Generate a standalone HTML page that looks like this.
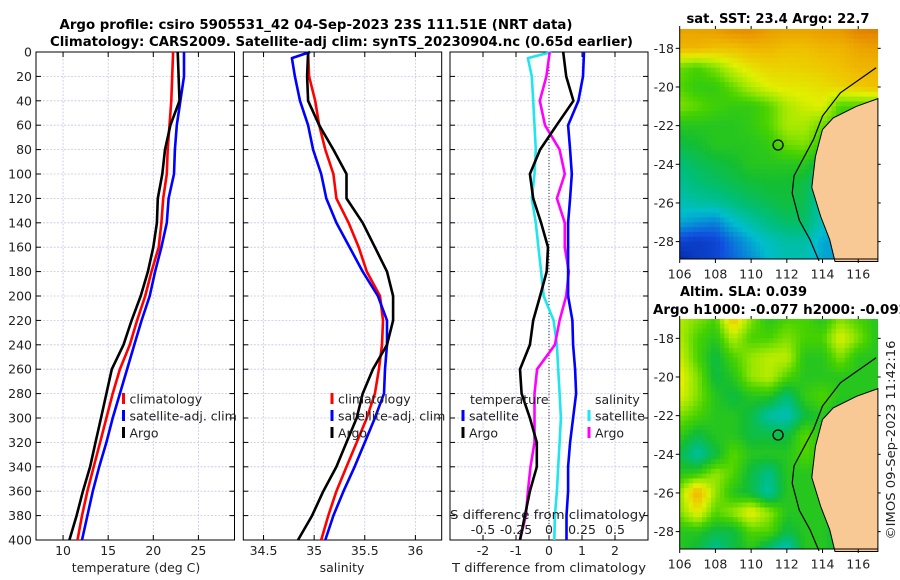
<!DOCTYPE html>
<html><head><meta charset="utf-8">
<style>
html,body{margin:0;padding:0;background:#fff;}
svg{display:block;font-family:"DejaVu Sans","Liberation Sans",sans-serif;}
</style></head>
<body>
<svg id="fig" width="900" height="580" viewBox="0 0 900 580" xmlns="http://www.w3.org/2000/svg">
<text x="316" y="29" font-size="13.5" font-weight="bold" text-anchor="middle" textLength="513" lengthAdjust="spacingAndGlyphs">Argo profile: csiro 5905531_42 04-Sep-2023 23S 111.51E (NRT data)</text>
<text x="341.5" y="46" font-size="13.5" font-weight="bold" text-anchor="middle" textLength="583" lengthAdjust="spacingAndGlyphs">Climatology: CARS2009. Satellite-adj clim: synTS_20230904.nc (0.65d earlier)</text>
<g id="plots"></g>
</svg>
<script>
// ---------- profile data ----------
const depths = [0,20,40,60,80,100,120,140,160,180,200,220,240,260,280,300,320,340,360,380,400];
const tempClim = [22.2,22.1,22.0,21.8,21.6,21.5,21.1,20.9,20.6,19.8,19.1,18.2,17.4,16.3,15.5,14.8,14.1,13.4,12.7,12.1,11.6];
const tempSat  = [23.4,23.4,23.0,22.6,22.4,22.3,21.7,21.5,20.9,20.2,19.6,18.7,17.9,17.1,16.3,15.5,14.8,14.0,13.3,12.7,12.1];
const tempArgo = [22.7,22.8,22.9,21.9,21.3,21.0,20.5,20.4,20.0,19.4,18.6,17.6,16.7,15.4,14.8,14.2,13.6,13.0,12.2,11.5,10.7];
const salClim = [34.94,34.95,35.01,35.05,35.11,35.19,35.22,35.34,35.44,35.52,35.65,35.68,35.67,35.64,35.60,35.52,35.42,35.32,35.22,35.14,35.07];
const satDepths = [0,5,20,40,60,80,100,120,140,160,180,200,220,240,260,280,300,320,340,360,380,400];
const salSat  = [34.96,34.78,34.81,34.86,34.94,34.99,35.07,35.12,35.22,35.35,35.48,35.63,35.72,35.72,35.70,35.69,35.60,35.50,35.40,35.29,35.19,35.11];
const salArgo = [34.94,34.93,34.94,35.05,35.19,35.32,35.32,35.48,35.60,35.72,35.78,35.78,35.72,35.58,35.48,35.42,35.32,35.22,35.09,34.98,34.84];
const dTempSat  = [1.06,1.03,0.89,0.58,0.64,0.69,0.64,0.58,0.58,0.58,0.58,0.71,0.73,0.79,0.82,0.73,0.64,0.58,0.58,0.53,0.53];
const dTempArgo = [0.43,0.52,0.74,0.23,-0.27,-0.58,-0.48,-0.24,-0.03,-0.07,-0.27,-0.48,-0.58,-0.88,-0.83,-0.58,-0.37,-0.37,-0.58,-0.73,-0.88];
const dSalSat  = [0.02,-0.16,-0.13,-0.12,-0.11,-0.10,-0.11,-0.13,-0.10,-0.08,-0.06,-0.04,0.035,0.06,0.07,0.08,0.09,0.08,0.07,0.06,0.045,0.04];
const dSalArgo = [0.005,-0.02,-0.07,-0.03,0.08,0.12,0.06,0.12,0.12,0.15,0.13,0.08,0.045,-0.09,-0.11,-0.11,-0.11,-0.14,-0.16,-0.175,-0.22];
const depthTicks = [0,20,40,60,80,100,120,140,160,180,200,220,240,260,280,300,320,340,360,380,400];
const tempTicks = [10,15,20,25];
const salTicks = [34.5,35,35.5,36];
const dTempTicks = [-2,-1,0,1,2];
const dSalTicks = [-0.5,-0.25,0,0.25,0.5];
const dSalTickLabels = ["-0.5","-0.25","0","0.25","0.5"];
// ---------- map data (1 degree grid, lon 106..117, lat -17..-29) ----------
const mapLons = [106,107,108,109,110,111,112,113,114,115,116,117];
const mapLats = [-17,-18,-19,-20,-21,-22,-23,-24,-25,-26,-27,-28,-29];
const sstField = [
 [0.86,0.86,0.87,0.9,0.9,0.87,0.86,0.86,0.87,0.88,0.92,0.93],
 [0.82,0.82,0.8,0.8,0.82,0.82,0.8,0.8,0.82,0.82,0.85,0.86],
 [0.58,0.55,0.6,0.68,0.73,0.76,0.76,0.77,0.78,0.8,0.82,0.82],
 [0.56,0.52,0.52,0.58,0.65,0.7,0.72,0.72,0.74,0.76,0.78,0.8],
 [0.6,0.57,0.54,0.52,0.52,0.56,0.64,0.68,0.7,0.55,0.55,0.55],
 [0.5,0.5,0.5,0.5,0.52,0.56,0.64,0.64,0.58,0.52,0.52,0.52],
 [0.45,0.47,0.5,0.5,0.5,0.52,0.58,0.6,0.52,0.5,0.5,0.5],
 [0.4,0.43,0.45,0.47,0.5,0.5,0.5,0.5,0.43,0.42,0.42,0.42],
 [0.37,0.4,0.42,0.44,0.46,0.47,0.47,0.45,0.35,0.32,0.32,0.32],
 [0.33,0.35,0.36,0.39,0.42,0.44,0.46,0.44,0.33,0.3,0.3,0.3],
 [0.27,0.24,0.22,0.3,0.35,0.39,0.42,0.42,0.32,0.3,0.3,0.3],
 [0.12,0.1,0.12,0.2,0.27,0.32,0.35,0.35,0.27,0.25,0.25,0.25],
 [0.05,0.1,0.12,0.18,0.23,0.3,0.33,0.33,0.27,0.25,0.25,0.25]];
const slaField = [
 [0.65,0.6,0.55,0.8,0.6,0.5,0.55,0.55,0.5,0.6,0.55,0.5],
 [0.65,0.55,0.5,0.65,0.55,0.55,0.6,0.55,0.55,0.7,0.6,0.5],
 [0.68,0.55,0.45,0.55,0.62,0.66,0.66,0.5,0.5,0.6,0.5,0.5],
 [0.72,0.6,0.45,0.5,0.62,0.66,0.56,0.5,0.5,0.5,0.5,0.5],
 [0.7,0.6,0.5,0.45,0.5,0.5,0.4,0.52,0.56,0.5,0.5,0.5],
 [0.6,0.55,0.5,0.5,0.45,0.35,0.32,0.45,0.5,0.45,0.45,0.45],
 [0.52,0.45,0.5,0.5,0.45,0.45,0.45,0.57,0.5,0.45,0.45,0.45],
 [0.45,0.35,0.45,0.57,0.5,0.5,0.5,0.56,0.5,0.45,0.45,0.45],
 [0.5,0.52,0.62,0.56,0.45,0.38,0.5,0.5,0.5,0.45,0.45,0.45],
 [0.62,0.84,0.62,0.5,0.45,0.35,0.5,0.5,0.5,0.45,0.45,0.45],
 [0.6,0.72,0.56,0.62,0.72,0.62,0.5,0.5,0.5,0.45,0.45,0.45],
 [0.5,0.5,0.45,0.45,0.56,0.56,0.45,0.5,0.5,0.45,0.45,0.45],
 [0.5,0.45,0.36,0.45,0.5,0.38,0.3,0.5,0.5,0.45,0.45,0.45]];
const coastLon = [117.1,115.9,114.6,114.0,113.6,113.4,113.9,114.4,114.7,117.1];
const coastLat = [-20.6,-21.0,-21.6,-22.2,-23.6,-25.2,-26.7,-27.9,-29.1,-29.1];
const shelfLon = [117.0,115.0,114.0,113.5,112.4,112.3,112.7,113.3,113.8];
const shelfLat = [-19.0,-20.3,-21.5,-22.7,-24.6,-25.5,-26.9,-27.9,-29.0];
const argoLon = 111.51, argoLat = -23.0;
const lonTicks = [106,108,110,112,114,116];
const latTicks = [-18,-20,-22,-24,-26,-28];

const NS = "http://www.w3.org/2000/svg";
const root = document.getElementById('plots');
function mk(tag, attrs, parent){ const e=document.createElementNS(NS,tag); for(const k in attrs) e.setAttribute(k,attrs[k]); (parent||root).appendChild(e); return e; }
function txt(x,y,s,size,anchor,parent,extra){ const t=mk('text',Object.assign({x:x,y:y,'font-size':size,'text-anchor':anchor||'middle',fill:'#222'},extra||{}),parent); t.textContent=s; return t; }

const Y0=52, Y1=540;
const yD = d => Y0 + d*(Y1-Y0)/400;
function lin(d0,d1,p0,p1){ return v => p0 + (v-d0)*(p1-p0)/(d1-d0); }

function panel(name, x0, x1, xs, ticks, tickLabels, showY){
  const g = mk('g',{});
  
  
  depthTicks.forEach(d=>{ mk('line',{x1:x0,x2:x1,y1:yD(d),y2:yD(d),stroke:'#c4c8e6','stroke-width':0.8,'stroke-dasharray':'2,1.5'},g); });
  ticks.forEach(v=>{ mk('line',{x1:xs(v),x2:xs(v),y1:Y0,y2:Y1,stroke:'#c4c8e6','stroke-width':0.8,'stroke-dasharray':'2,1.5'},g); });
  depthTicks.forEach(d=>{ mk('line',{x1:x0,x2:x0+5,y1:yD(d),y2:yD(d),stroke:'#000'},g); mk('line',{x1:x1-5,x2:x1,y1:yD(d),y2:yD(d),stroke:'#000'},g);
    if(showY){ const t=txt(32,yD(d)+4.5,String(d),12.5,'end',g);   }});
  ticks.forEach((v,i)=>{ mk('line',{x1:xs(v),x2:xs(v),y1:Y1,y2:Y1-5,stroke:'#000'},g); mk('line',{x1:xs(v),x2:xs(v),y1:Y0,y2:Y0+5,stroke:'#000'},g);
    if(tickLabels){ const t=txt(xs(v),555,tickLabels[i],12.5,'middle',g);   }});
  mk('rect',{x:x0,y:Y0,width:x1-x0,height:Y1-Y0,fill:'none',stroke:'#000','stroke-width':1},g);
  return g;
}
function profile(g, name, xs, vals, dep, color){
  const pts = vals.map((v,i)=> xs(v).toFixed(1)+','+yD(dep[i]).toFixed(1)).join(' ');
  const p = mk('polyline',{points:pts,fill:'none',stroke:color,'stroke-width':2.6,'stroke-linejoin':'round'},g);
  
  
}
function legend(g, x, y, items, name){
  const lg = mk('g',{},g);
  
  
  items.forEach((it,i)=>{ const yy=y+i*17; mk('rect',{x:x-1.5,y:yy-7,width:3,height:11,fill:it[1]},lg); txt(x+6,yy+3.5,it[0],12.5,'start',lg); });
}

const xT = lin(7,29,36,234.5);
const g1 = panel('temperature-panel',36,234.5,xT,tempTicks,tempTicks.map(String),true);
profile(g1,'temp-climatology-line',xT,tempClim,depths,'#ff0000');
profile(g1,'temp-satellite-line',xT,tempSat,depths,'#0000ff');
profile(g1,'temp-argo-line',xT,tempArgo,depths,'#000');
legend(g1,123.5,400,[['climatology','#ff0000'],['satellite-adj. clim','#0000ff'],['Argo','#000']],'temperature-legend');
txt(136,572,'temperature (deg C)',12.5,'middle',g1);

const xS = lin(34.3,36.26,243.3,441.7);
const g2 = panel('salinity-panel',243.3,441.7,xS,salTicks,salTicks.map(String),false);
profile(g2,'sal-climatology-line',xS,salClim,depths,'#ff0000');
profile(g2,'sal-satellite-line',xS,salSat,satDepths,'#0000ff');
profile(g2,'sal-argo-line',xS,salArgo,depths,'#000');
legend(g2,332,400,[['climatology','#ff0000'],['satellite-adj. clim','#0000ff'],['Argo','#000']],'salinity-legend');
txt(342,572,'salinity',12.5,'middle',g2);

const xDT = lin(-3,3,450,648);
const xDS = v => xDT(v*4);
const g3 = panel('difference-panel',450,648,xDT,dTempTicks,dTempTicks.map(String),false);
mk('line',{x1:xDT(0),x2:xDT(0),y1:Y0,y2:Y1,stroke:'#333','stroke-width':1,'stroke-dasharray':'1,2'},g3);
profile(g3,'dsal-satellite-line',xDS,dSalSat,satDepths,'#20e5ee');
profile(g3,'dsal-argo-line',xDS,dSalArgo,depths,'#ff00ff');
profile(g3,'dtemp-argo-line',xDT,dTempArgo,depths,'#000');
profile(g3,'dtemp-satellite-line',xDT,dTempSat,depths,'#0000ff');
txt(470,404,'temperature',12.5,'start',g3);
legend(g3,463,417,[['satellite','#0000ff'],['Argo','#000']],'dtemp-legend');
txt(595,404,'salinity',12.5,'start',g3);
legend(g3,589,417,[['satellite','#20e5ee'],['Argo','#ff00ff']],'dsal-legend');
txt(548,519,'S difference from climatology',12.5,'middle',g3,{textLength:196,lengthAdjust:'spacingAndGlyphs'});
dSalTicks.forEach((v,i)=>{ const t=txt(xDS(v),534,dSalTickLabels[i],12.5,'middle',g3);   });
txt(549,572,'T difference from climatology',12.5,'middle',g3,{textLength:194,lengthAdjust:'spacingAndGlyphs'});

// ---------- maps ----------
const stops = [[0,[0,20,140]],[0.15,[16,80,224]],[0.3,[0,190,205]],[0.4,[0,190,120]],[0.47,[20,190,50]],[0.55,[70,210,0]],[0.62,[150,230,0]],[0.7,[224,240,0]],[0.8,[240,192,0]],[0.9,[232,140,0]],[1,[192,96,0]]];
function cmap(v){ v=Math.max(0,Math.min(1,v)); for(let i=1;i<stops.length;i++){ if(v<=stops[i][0]){ const a=stops[i-1],b=stops[i],f=(v-a[0])/(b[0]-a[0]); return 'rgb('+a[1].map((c,k)=>Math.round(c+(b[1][k]-c)*f)).join(',')+')'; } } return 'rgb(192,96,0)'; }
function sample(field, lon, lat){
  const fx=Math.max(0,Math.min(10.999,lon-106)), fy=Math.max(0,Math.min(11.999,-17-lat));
  const i=Math.floor(fx), j=Math.floor(fy), u=fx-i, w=fy-j;
  return field[j][i]*(1-u)*(1-w)+field[j][i+1]*u*(1-w)+field[j+1][i]*(1-u)*w+field[j+1][i+1]*u*w;
}
function drawMap(name, field, top, bottom, titleLines){
  const left=679.7, right=877.7;
  const mx = lin(106,117.09,left,right);
  const my = lin(-17,-28.9,top,bottom);
  const g = mk('g',{});
  
  
  const step=0.25;
  for(let lat=-17; lat>-28.9; lat-=step){
    for(let lon=106; lon<117.09; lon+=step){
      const v=sample(field, lon+step/2, lat-step/2);
      const x0=mx(lon), y0=my(lat);
      mk('rect',{x:x0.toFixed(2),y:y0.toFixed(2),width:(mx(Math.min(lon+step,117.09))-x0+0.4).toFixed(2),height:(my(Math.max(lat-step,-28.9))-y0+0.4).toFixed(2),fill:cmap(v)},g);
    }
  }
  const land = mk('polygon',{points:coastLon.map((lo,i)=>mx(lo).toFixed(1)+','+Math.min(my(coastLat[i]),bottom+2.5).toFixed(1)).join(' '),fill:'#f9c995',stroke:'#000','stroke-width':1},g);
  
  
  const shelf = mk('polyline',{points:shelfLon.map((lo,i)=>mx(lo).toFixed(1)+','+my(shelfLat[i]).toFixed(1)).join(' '),fill:'none',stroke:'#000','stroke-width':1.2},g);
  
  
  const c = mk('circle',{cx:mx(argoLon),cy:my(argoLat),r:5,fill:'none',stroke:'#000','stroke-width':1.3},g);
  
  
  lonTicks.forEach(v=>{ mk('line',{x1:mx(v),x2:mx(v),y1:bottom,y2:bottom+4,stroke:'#000'},g); mk('line',{x1:mx(v),x2:mx(v),y1:top,y2:top-3,stroke:'#000'},g);
    const t=txt(mx(v),bottom+19.5,String(v),12.5,'middle',g);   });
  latTicks.forEach(v=>{ mk('line',{x1:left-4,x2:left,y1:my(v),y2:my(v),stroke:'#000'},g); mk('line',{x1:right,x2:right+3,y1:my(v),y2:my(v),stroke:'#000'},g);
    const t=txt(674,my(v)+4.5,String(v),12.5,'end',g);   });
  mk('line',{x1:left,x2:left,y1:top,y2:bottom,stroke:'#000'},g);
  mk('line',{x1:left,x2:right,y1:bottom,y2:bottom,stroke:'#000'},g);
  titleLines.forEach(tl=>{ const t=txt(tl[0],tl[1],tl[2],13.5,'start',g,{'font-weight':'bold',textLength:tl[3],lengthAdjust:'spacingAndGlyphs',fill:'#000'});   });
}
drawMap('sst-map', sstField, 29, 259, [[686.5,23,'sat. SST: 23.4 Argo: 22.7',183]]);
drawMap('sla-map', slaField, 319, 549, [[680,296,'Altim. SLA: 0.039',127],[653,314,'Argo h1000: -0.077 h2000: -0.092',255]]);
const cp = txt(895,440,'©IMOS 09-Sep-2023 11:42:16',12.5,'middle',null,{transform:'rotate(-90 895 440)',textLength:199,lengthAdjust:'spacingAndGlyphs'});


</script>
</body></html>
